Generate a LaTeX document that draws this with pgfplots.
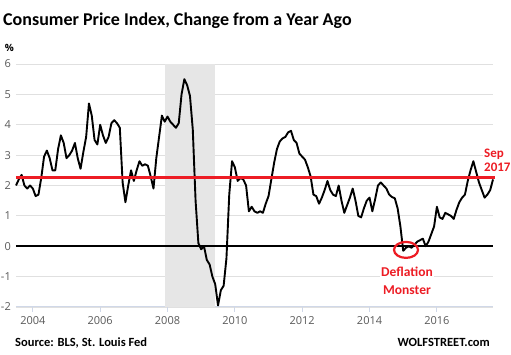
\documentclass[border=0pt]{standalone}
\usepackage{fontspec}
\setmainfont{Carlito}
\newfontfamily\tickfont{Open Sans}
\usepackage{pgfplots}
\usepackage{pgfplotstable}
\pgfplotsset{compat=1.18}
\definecolor{wsred}{RGB}{237,28,36}
\definecolor{gridgray}{RGB}{224,224,224}
\definecolor{shade}{RGB}{230,230,230}
\definecolor{axisblue}{RGB}{208,216,232}
\definecolor{tickgray}{RGB}{89,89,89}

% CPI change from a year ago, monthly, Jul 2003 - Sep 2017 (percent)
\pgfplotstableread[row sep=\\]{
v\\
2.0\\2.2\\2.35\\2.0\\1.9\\2.0\\
1.9\\1.65\\1.7\\2.25\\2.95\\3.15\\2.9\\2.5\\2.5\\3.2\\3.65\\3.4\\
2.9\\3.0\\3.15\\3.4\\2.9\\2.55\\3.1\\3.6\\4.7\\4.3\\3.5\\3.35\\
4.0\\3.65\\3.4\\3.6\\4.05\\4.15\\4.05\\3.9\\2.1\\1.45\\2.0\\2.5\\
2.15\\2.5\\2.8\\2.65\\2.7\\2.65\\2.3\\1.9\\2.9\\3.6\\4.3\\4.1\\
4.27\\4.1\\4.0\\3.9\\4.05\\5.0\\5.5\\5.3\\4.95\\3.85\\1.5\\0.1\\
-0.1\\0.0\\-0.45\\-0.6\\-1.0\\-1.25\\-1.95\\-1.45\\-1.3\\-0.4\\1.7\\2.8\\
2.6\\2.15\\2.25\\2.2\\2.0\\1.15\\1.3\\1.15\\1.1\\1.15\\1.1\\1.4\\
1.65\\2.2\\2.75\\3.2\\3.45\\3.55\\3.6\\3.75\\3.8\\3.5\\3.4\\3.05\\
2.95\\2.85\\2.6\\2.3\\1.7\\1.65\\1.4\\1.6\\1.85\\2.15\\1.85\\1.7\\
1.65\\2.0\\1.5\\1.1\\1.35\\1.6\\1.9\\1.5\\1.0\\0.95\\1.25\\1.5\\
1.6\\1.15\\1.55\\2.0\\2.1\\2.0\\1.9\\1.7\\1.62\\1.58\\1.25\\0.65\\
-0.15\\-0.05\\0.0\\-0.05\\0.05\\0.15\\0.2\\0.25\\0.0\\0.15\\0.4\\0.65\\
1.3\\0.95\\0.9\\1.1\\1.05\\1.0\\0.9\\1.2\\1.45\\1.6\\1.7\\2.15\\
2.5\\2.8\\2.45\\2.1\\1.85\\1.6\\1.7\\1.85\\2.2\\
}\cpi

\begin{document}
\begin{tikzpicture}
\useasboundingbox (0,0) rectangle (511bp,355bp);
\begin{axis}[
  at={(16bp,48bp)}, anchor=south west,
  scale only axis, width=477bp, height=243bp,
  xmin=-6, xmax=164, ymin=-2, ymax=6,
  clip=false,
  axis x line*=bottom, axis y line*=left,
  x axis line style={draw=axisblue, line width=1bp, -},
  y axis line style={draw=none},
  ytick={-2,-1,0,1,2,3,4,5,6},
  ymajorgrids, grid style={draw=gridgray, line width=0.8bp},
  xtick={0,24,48,72,96,120,144},
  xticklabels={2004,2006,2008,2010,2012,2014,2016},
  tick align=outside, major tick length=5bp,
  xtick style={draw=axisblue, line width=1bp},
  ytick style={draw=none},
  tick label style={font=\tickfont\fontsize{11bp}{13bp}\selectfont, text=tickgray},
  /pgf/number format/assume math mode=true,
  yticklabel style={inner sep=0pt, anchor=east, xshift=0bp},
  xticklabel style={inner sep=0pt, anchor=north, yshift=-4bp},
]
\addplot[fill=shade, draw=none] coordinates {(47,-2) (47,6) (65,6) (65,-2)} -- cycle;
\addplot[black, line width=2bp] coordinates {(-6,0) (164,0)};
\addplot[black, line width=1.9bp, line join=round] table[x expr=\coordindex-6, y=v] {\cpi};
\addplot[wsred, line width=3.5bp] coordinates {(-6,2.27) (164.6,2.27)};
\draw[wsred, line width=2.2bp] (axis cs:133.0,-0.12) ellipse [x radius=12bp, y radius=8bp];
\end{axis}
\node[anchor=base west, inner sep=0pt, font=\bfseries\fontsize{18bp}{20bp}\selectfont] at (3bp,329bp) {Consumer Price Index, Change from a Year Ago};
\node[anchor=center, inner sep=0pt, font=\tickfont\bfseries\fontsize{10bp}{12bp}\selectfont] at (9.5bp,307.5bp) {\%};
\node[anchor=base west, inner sep=0pt, font=\bfseries\fontsize{12.5bp}{14bp}\selectfont] at (15bp,9bp) {Source: BLS, St. Louis Fed};
\node[anchor=base east, inner sep=0pt, font=\bfseries\fontsize{12.5bp}{14bp}\selectfont] at (490bp,9bp) {WOLFSTREET.com};
\node[anchor=base west, inner sep=1pt, fill=white, text=wsred, font=\bfseries\fontsize{13bp}{14bp}\selectfont, align=left] at (483bp,197.5bp) {Sep};
\node[anchor=base west, inner sep=1pt, fill=white, text=wsred, font=\bfseries\fontsize{13bp}{14bp}\selectfont] at (483bp,183.3bp) {2017};
\node[anchor=base, inner sep=1pt, fill=white, text=wsred, font=\bfseries\fontsize{13.5bp}{14bp}\selectfont] at (407bp,78.3bp) {Deflation};
\node[anchor=base, inner sep=1pt, fill=white, text=wsred, font=\bfseries\fontsize{13.5bp}{14bp}\selectfont] at (407bp,60.7bp) {Monster};
\end{tikzpicture}
\end{document}
